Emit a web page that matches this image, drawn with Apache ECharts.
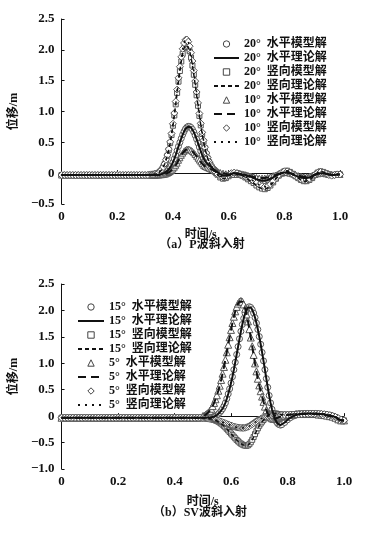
<!DOCTYPE html>
<html><head><meta charset="utf-8">
<script src="https://cdn.jsdelivr.net/npm/echarts@6/dist/echarts.min.js"></script>
<style>html,body{margin:0;padding:0;background:#fff}#c{width:367px;height:535px}</style>
</head><body><div id="c"></div>
<script>
// ---------- (a) P wave: time axis ----------
const timeA = [
0,0.01,0.02,0.03,0.04,0.05,0.06,0.07,0.08,0.09,
0.1,0.11,0.12,0.13,0.14,0.15,0.16,0.17,0.18,0.19,
0.2,0.21,0.22,0.23,0.24,0.25,0.26,0.27,0.28,0.29,
0.3,0.31,
0.32,0.325,0.33,0.335,0.34,0.345,0.35,0.355,0.36,0.365,
0.37,0.375,0.38,0.385,0.39,0.395,0.4,0.405,0.41,0.415,
0.42,0.425,0.43,0.435,0.44,0.445,0.45,0.455,0.46,0.465,
0.47,0.475,0.48,0.485,0.49,0.495,0.5,0.505,0.51,0.515,
0.52,0.525,0.53,0.535,0.54,0.545,0.55,0.555,0.56,
0.57,0.58,0.59,0.6,0.61,0.62,0.63,0.64,0.65,0.66,
0.67,0.68,0.69,0.7,0.71,0.72,0.73,0.74,0.75,0.76,
0.77,0.78,0.79,0.8,0.81,0.82,0.83,0.84,0.85,0.86,
0.87,0.88,0.89,0.9,0.91,0.92,0.93,0.94,0.95,0.96,
0.97,0.98,0.99,1.0];
// 20° horizontal
const pH20 = [
-0.03,-0.03,-0.03,-0.03,-0.03,-0.03,-0.03,-0.03,-0.03,-0.03,
-0.03,-0.03,-0.03,-0.03,-0.03,-0.03,-0.03,-0.03,-0.03,-0.03,
-0.03,-0.03,-0.03,-0.03,-0.03,-0.03,-0.03,-0.03,-0.03,-0.03,
-0.03,-0.03,
-0.03,-0.03,-0.03,-0.028,-0.027,-0.025,-0.022,-0.018,-0.013,-0.006,
0.005,0.019,0.038,0.062,0.092,0.13,0.176,0.232,0.295,0.365,
0.435,0.5,0.564,0.624,0.675,0.717,0.745,0.759,0.757,0.74,
0.709,0.666,0.612,0.552,0.487,0.422,0.357,0.297,0.241,0.2,
0.17,0.15,0.13,0.11,0.09,0.07,0.05,0.03,0.01,
-0.02,-0.04,-0.04,-0.03,-0.01,0.0,0.0,-0.01,-0.02,-0.03,
-0.05,-0.06,-0.08,-0.1,-0.11,-0.12,-0.12,-0.11,-0.09,-0.07,
-0.04,-0.02,0.0,0.01,0.01,0.0,-0.02,-0.04,-0.06,-0.07,
-0.08,-0.08,-0.07,-0.05,-0.03,-0.01,0.0,0.0,-0.01,-0.02,
-0.03,-0.03,-0.02,-0.02];
// 20° vertical
const pV20 = [
-0.03,-0.03,-0.03,-0.03,-0.03,-0.03,-0.03,-0.03,-0.03,-0.03,
-0.03,-0.03,-0.03,-0.03,-0.03,-0.03,-0.03,-0.03,-0.03,-0.03,
-0.03,-0.03,-0.03,-0.03,-0.03,-0.03,-0.03,-0.03,-0.03,-0.03,
-0.03,-0.03,
-0.02,-0.02,-0.02,-0.01,-0.01,0.0,0.01,0.03,0.055,0.095,
0.145,0.208,0.282,0.374,0.487,0.618,0.769,0.936,1.116,1.301,
1.484,1.657,1.811,1.936,2.027,2.076,2.08,2.047,1.977,1.875,
1.745,1.596,1.433,1.263,1.093,0.929,0.776,0.636,0.512,0.404,
0.314,0.239,0.179,0.132,0.09,0.055,0.025,0.0,-0.025,
-0.07,-0.09,-0.08,-0.05,-0.02,0.0,0.0,-0.02,-0.04,-0.07,
-0.1,-0.13,-0.16,-0.2,-0.23,-0.25,-0.26,-0.24,-0.2,-0.15,
-0.09,-0.04,0.0,0.03,0.04,0.02,-0.01,-0.05,-0.08,-0.11,
-0.13,-0.13,-0.11,-0.08,-0.03,0.01,0.03,0.02,0.0,-0.02,
-0.03,-0.03,-0.02,-0.02];
// 10° horizontal
const pH10 = [
-0.03,-0.03,-0.03,-0.03,-0.03,-0.03,-0.03,-0.03,-0.03,-0.03,
-0.03,-0.03,-0.03,-0.03,-0.03,-0.03,-0.03,-0.03,-0.03,-0.03,
-0.03,-0.03,-0.03,-0.03,-0.03,-0.03,-0.03,-0.03,-0.03,-0.03,
-0.03,-0.03,
-0.03,-0.03,-0.03,-0.03,-0.029,-0.029,-0.028,-0.026,-0.024,-0.021,
-0.017,-0.01,-0.001,0.011,0.026,0.045,0.069,0.097,0.128,0.163,
0.21,0.25,0.29,0.325,0.355,0.376,0.388,0.39,0.383,0.371,
0.353,0.33,0.303,0.274,0.243,0.212,0.182,0.153,0.127,0.11,
0.1,0.09,0.08,0.07,0.06,0.05,0.04,0.03,0.02,
0.01,0.0,-0.01,-0.02,-0.02,-0.02,-0.02,-0.02,-0.03,-0.03,
-0.04,-0.05,-0.06,-0.07,-0.08,-0.08,-0.08,-0.07,-0.06,-0.04,
-0.03,-0.01,0.0,0.01,0.01,0.0,-0.01,-0.02,-0.04,-0.05,
-0.06,-0.06,-0.05,-0.04,-0.02,-0.01,0.0,0.0,-0.01,-0.02,
-0.02,-0.02,-0.02,-0.02];
// 10° vertical
const pV10 = [
-0.03,-0.03,-0.03,-0.03,-0.03,-0.03,-0.03,-0.03,-0.03,-0.03,
-0.03,-0.03,-0.03,-0.03,-0.03,-0.03,-0.03,-0.03,-0.03,-0.03,
-0.03,-0.03,-0.03,-0.03,-0.03,-0.03,-0.03,-0.03,-0.03,-0.03,
-0.03,-0.03,
-0.02,-0.02,-0.02,-0.01,-0.01,0.0,0.01,0.03,0.06,0.1,
0.15,0.217,0.294,0.39,0.507,0.644,0.801,0.975,1.162,1.355,
1.546,1.726,1.886,2.017,2.111,2.162,2.167,2.132,2.059,1.953,
1.818,1.663,1.493,1.316,1.139,0.968,0.808,0.662,0.533,0.421,
0.327,0.249,0.186,0.137,0.099,0.065,0.035,0.01,-0.015,
-0.05,-0.07,-0.06,-0.03,0.0,0.01,0.0,-0.02,-0.04,-0.06,
-0.08,-0.1,-0.13,-0.16,-0.19,-0.21,-0.22,-0.21,-0.18,-0.13,
-0.08,-0.03,0.01,0.03,0.03,0.01,-0.02,-0.05,-0.08,-0.1,
-0.11,-0.11,-0.09,-0.06,-0.02,0.01,0.02,0.01,-0.01,-0.03,
-0.04,-0.03,-0.02,-0.02];

// ---------- (b) SV wave: time axis ----------
const timeB = [
0,0.01,0.02,0.03,0.04,0.05,0.06,0.07,0.08,0.09,
0.1,0.11,0.12,0.13,0.14,0.15,0.16,0.17,0.18,0.19,
0.2,0.21,0.22,0.23,0.24,0.25,0.26,0.27,0.28,0.29,
0.3,0.31,0.32,0.33,0.34,0.35,0.36,0.37,0.38,0.39,
0.4,0.41,0.42,0.43,0.44,0.45,0.46,0.47,0.48,0.49,
0.5,0.505,0.51,0.515,0.52,0.525,0.53,0.535,0.54,0.545,
0.55,0.555,0.56,0.565,0.57,0.575,0.58,0.585,0.59,0.595,
0.6,0.605,0.61,0.615,0.62,0.625,0.63,0.635,0.64,0.645,
0.65,0.655,0.66,0.665,0.67,0.675,0.68,0.685,0.69,0.695,
0.7,0.705,0.71,0.715,0.72,0.725,0.73,0.735,0.74,0.745,
0.75,0.755,0.76,0.765,0.77,0.775,0.78,
0.79,0.8,0.81,0.82,0.83,0.84,0.85,0.86,0.87,0.88,
0.89,0.9,0.91,0.92,0.93,0.94,0.95,0.96,0.97,0.98,
0.99,1.0];
// 15° horizontal
const sH15 = [
-0.03,-0.03,-0.03,-0.03,-0.03,-0.03,-0.03,-0.03,-0.03,-0.03,
-0.03,-0.03,-0.03,-0.03,-0.03,-0.03,-0.03,-0.03,-0.03,-0.03,
-0.03,-0.03,-0.03,-0.03,-0.03,-0.03,-0.03,-0.03,-0.03,-0.03,
-0.03,-0.03,-0.03,-0.03,-0.03,-0.03,-0.03,-0.03,-0.03,-0.03,
-0.03,-0.03,-0.03,-0.03,-0.03,-0.03,-0.03,-0.03,-0.03,-0.03,
-0.03,-0.03,-0.03,-0.025,-0.025,-0.02,-0.02,-0.015,-0.01,0.0,
0.02,0.04,0.07,0.1,0.14,0.19,0.25,0.33,0.42,0.516,
0.625,0.746,0.878,1.019,1.166,1.315,1.463,1.604,1.734,1.848,
1.942,2.012,2.055,2.07,2.055,2.015,1.95,1.865,1.76,1.64,
1.505,1.36,1.205,1.045,0.88,0.71,0.545,0.39,0.25,0.13,
0.04,-0.04,-0.1,-0.14,-0.16,-0.17,-0.16,
-0.12,-0.07,-0.03,0.0,0.02,0.03,0.04,0.05,0.05,0.05,
0.05,0.05,0.04,0.04,0.03,0.02,0.01,0.0,-0.02,-0.05,
-0.08,-0.09];
// 15° vertical
const sV15 = [
-0.03,-0.03,-0.03,-0.03,-0.03,-0.03,-0.03,-0.03,-0.03,-0.03,
-0.03,-0.03,-0.03,-0.03,-0.03,-0.03,-0.03,-0.03,-0.03,-0.03,
-0.03,-0.03,-0.03,-0.03,-0.03,-0.03,-0.03,-0.03,-0.03,-0.03,
-0.03,-0.03,-0.03,-0.03,-0.03,-0.03,-0.03,-0.03,-0.03,-0.03,
-0.03,-0.03,-0.03,-0.03,-0.03,-0.03,-0.03,-0.03,-0.03,-0.03,
-0.035,-0.036,-0.038,-0.041,-0.045,-0.049,-0.055,-0.061,-0.07,-0.08,
-0.092,-0.106,-0.122,-0.141,-0.162,-0.186,-0.212,-0.24,-0.27,-0.3,
-0.33,-0.36,-0.39,-0.42,-0.45,-0.475,-0.5,-0.52,-0.537,-0.55,
-0.558,-0.56,-0.552,-0.53,-0.494,-0.448,-0.396,-0.34,-0.284,-0.23,
-0.182,-0.14,-0.104,-0.072,-0.04,-0.01,0.01,0.03,0.04,0.05,
0.05,0.05,0.05,0.04,0.04,0.03,0.03,
0.03,0.03,0.03,0.04,0.04,0.05,0.05,0.05,0.05,0.05,
0.05,0.05,0.05,0.04,0.04,0.03,0.02,0.0,-0.02,-0.05,
-0.07,-0.08];
// 5° horizontal
const sH5 = [
-0.03,-0.03,-0.03,-0.03,-0.03,-0.03,-0.03,-0.03,-0.03,-0.03,
-0.03,-0.03,-0.03,-0.03,-0.03,-0.03,-0.03,-0.03,-0.03,-0.03,
-0.03,-0.03,-0.03,-0.03,-0.03,-0.03,-0.03,-0.03,-0.03,-0.03,
-0.03,-0.03,-0.03,-0.03,-0.03,-0.03,-0.03,-0.03,-0.03,-0.03,
-0.03,-0.03,-0.03,-0.03,-0.03,-0.03,-0.03,-0.03,-0.03,-0.03,
0.0,0.01,0.025,0.045,0.07,0.1,0.14,0.19,0.25,0.32,
0.395,0.481,0.577,0.685,0.804,0.931,1.067,1.208,1.351,1.494,
1.632,1.762,1.881,1.983,2.067,2.129,2.167,2.18,2.163,2.113,
2.032,1.924,1.793,1.645,1.487,1.322,1.158,0.998,0.847,0.708,
0.582,0.472,0.37,0.27,0.18,0.11,0.05,0.01,-0.02,-0.04,
-0.05,-0.05,-0.04,-0.03,-0.02,-0.01,0.0,
0.01,0.02,0.03,0.03,0.04,0.04,0.04,0.04,0.04,0.04,
0.04,0.04,0.03,0.03,0.02,0.01,0.0,-0.01,-0.03,-0.06,
-0.08,-0.08];
// 5° vertical
const sV5 = [
-0.03,-0.03,-0.03,-0.03,-0.03,-0.03,-0.03,-0.03,-0.03,-0.03,
-0.03,-0.03,-0.03,-0.03,-0.03,-0.03,-0.03,-0.03,-0.03,-0.03,
-0.03,-0.03,-0.03,-0.03,-0.03,-0.03,-0.03,-0.03,-0.03,-0.03,
-0.03,-0.03,-0.03,-0.03,-0.03,-0.03,-0.03,-0.03,-0.03,-0.03,
-0.03,-0.03,-0.03,-0.03,-0.03,-0.03,-0.03,-0.03,-0.03,-0.03,
-0.035,-0.037,-0.04,-0.043,-0.047,-0.05,-0.055,-0.06,-0.066,-0.072,
-0.079,-0.087,-0.096,-0.105,-0.115,-0.125,-0.135,-0.146,-0.157,-0.168,
-0.178,-0.188,-0.197,-0.205,-0.211,-0.216,-0.219,-0.221,-0.222,-0.222,
-0.219,-0.211,-0.201,-0.187,-0.17,-0.152,-0.133,-0.114,-0.096,-0.079,
-0.064,-0.05,-0.038,-0.027,-0.017,-0.008,0.0,0.006,0.01,0.013,
0.015,0.016,0.017,0.018,0.019,0.02,0.021,
0.023,0.025,0.028,0.03,0.033,0.036,0.04,0.043,0.045,0.047,
0.048,0.048,0.046,0.043,0.038,0.03,0.02,0.005,-0.015,-0.04,
-0.065,-0.08];

const namesA = ['20°  水平模型解','20°  水平理论解','20°  竖向模型解','20°  竖向理论解','10°  水平模型解','10°  水平理论解','10°  竖向模型解','10°  竖向理论解'];
const namesB = ['15°  水平模型解','15°  水平理论解','15°  竖向模型解','15°  竖向理论解','5°  水平模型解','5°  水平理论解','5°  竖向模型解','5°  竖向理论解'];
const captionA = '（a）P波斜入射';
const captionB = '（b）SV波斜入射';

const FONT = "'Liberation Serif','Noto Sans CJK SC',serif";
const pairs = (t, v) => t.map((x, i) => [x, v[i]]);
const fmtY = v => v === 0 ? '0' : v.toFixed(1).replace('-', '−');
const fmtX = v => v === 0 ? '0' : v.toFixed(1);

function axesFor(gi, ymin, ymax, nameGapX) {
  const lab = {color:'#111', fontSize:13, fontWeight:'bold', fontFamily:FONT};
  return {
    x: {type:'value', gridIndex:gi, min:0, max:1, interval:0.2,
        axisLine:{lineStyle:{color:'#111', width:1}}, axisTick:{inside:true, length:3, lineStyle:{color:'#111'}},
        splitLine:{show:false}, axisLabel:Object.assign({formatter:fmtX, margin:6}, lab),
        name:'时间/s', nameLocation:'middle', nameGap:nameGapX,
        nameTextStyle:{color:'#111', fontSize:12, fontWeight:'bold', fontFamily:FONT}},
    y: {type:'value', gridIndex:gi, min:ymin, max:ymax, interval:0.5,
        axisLine:{show:true, lineStyle:{color:'#111', width:1}}, axisTick:{show:true, inside:true, length:3, lineStyle:{color:'#111'}},
        splitLine:{show:false}, axisLabel:Object.assign({formatter:fmtY, margin:7}, lab),
        name:'位移/m', nameLocation:'middle', nameGap:30, nameRotate:90,
        nameTextStyle:{color:'#111', fontSize:12, fontWeight:'bold', fontFamily:FONT}}
  };
}
const aA = axesFor(0, -0.5, 2.5, 25);
const aB = axesFor(1, -1.0, 2.5, 27);

const MK = {color:'#fff', borderColor:'#555', borderWidth:1};
function markers(name, gi, t, v, sym, size) {
  return {name, type:'line', xAxisIndex:gi, yAxisIndex:gi, data:pairs(t, v), symbol:sym, symbolSize:size,
          showSymbol:true, lineStyle:{width:0, opacity:0}, itemStyle:MK, z:2, silent:true};
}
function theory(name, gi, t, v, dash, width) {
  return {name, type:'line', xAxisIndex:gi, yAxisIndex:gi, data:pairs(t, v), showSymbol:false, symbol:'none',
          lineStyle:{color:'#111', width:width, type:dash}, itemStyle:{color:'#111'}, z:3, silent:true};
}
const series = [
  markers(namesA[0],0,timeA,pH20,'circle',6),
  markers(namesA[2],0,timeA,pV20,'rect',5),
  markers(namesA[4],0,timeA,pH10,'triangle',6),
  markers(namesA[6],0,timeA,pV10,'diamond',7),
  theory(namesA[1],0,timeA,pH20,'solid',2),
  theory(namesA[3],0,timeA,pV20,[4,3],1.5),
  theory(namesA[5],0,timeA,pH10,[8,5],2),
  theory(namesA[7],0,timeA,pV10,[2,5],1.5),
  markers(namesB[0],1,timeB,sH15,'circle',6),
  markers(namesB[2],1,timeB,sV15,'rect',5),
  markers(namesB[4],1,timeB,sH5,'triangle',7),
  markers(namesB[6],1,timeB,sV5,'diamond',7),
  theory(namesB[1],1,timeB,sH15,'solid',2),
  theory(namesB[3],1,timeB,sV15,[4,3],1.5),
  theory(namesB[5],1,timeB,sH5,[8,5],2),
  theory(namesB[7],1,timeB,sV5,[2,5],1.5)
];
// legend items: model entries show only a hollow marker, theory entries only the line
const legItems = names => names.map((n, i) => i % 2 === 0
  ? {name:n, lineStyle:{opacity:0}, itemStyle:{color:'#fff', borderColor:'#444', borderWidth:1}}
  : {name:n, itemStyle:{opacity:0}});
const legText = {color:'#111', fontSize:12, fontWeight:'bold', fontFamily:FONT, lineHeight:14};
const option = {
  backgroundColor:'#fff',
  animation:false,
  grid:[{left:53, top:19, width:287, height:185},{left:54, top:284, width:290, height:185}],
  xAxis:[aA.x, aB.x], yAxis:[aA.y, aB.y],
  title:[
    {text:captionA, left:197, top:234, textAlign:'center', textStyle:{color:'#111', fontSize:12, fontWeight:'bold', fontFamily:FONT}},
    {text:captionB, left:195, top:502, textAlign:'center', textStyle:{color:'#111', fontSize:12, fontWeight:'bold', fontFamily:FONT}}
  ],
  legend:[
    {data:legItems(namesA), orient:'vertical', left:208, top:32, itemWidth:25, itemHeight:8, itemGap:0, selectedMode:false, textStyle:legText},
    {data:legItems(namesB), orient:'vertical', left:72, top:295, itemWidth:26, itemHeight:8, itemGap:0, selectedMode:false, textStyle:legText}
  ],
  series
};
const chart = echarts.init(document.getElementById('c'), null, {renderer:'canvas'});
chart.setOption(option);
</script></body></html>
